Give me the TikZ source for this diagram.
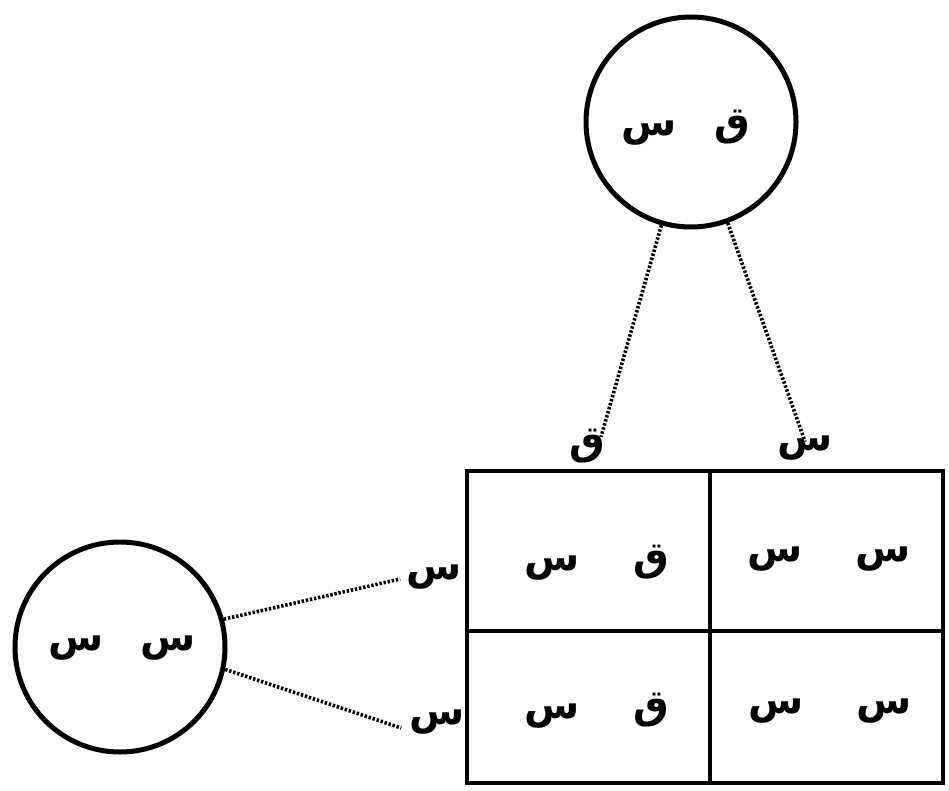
\documentclass[tikz,border=0pt]{standalone}
\usepackage{fontspec}
\newfontfamily\arabicfont[Script=Arabic]{DejaVu Sans}
\TeXXeTstate=1
\newcommand{\ar}[1]{\beginR #1\endR}
\begin{document}
\begin{tikzpicture}[x=1pt,y=-1pt,
  letters/.style={font=\arabicfont\bfseries\fontsize{40}{46}\selectfont, inner sep=0pt, anchor=center},
  gamete/.style={circle, draw, line width=5pt, minimum size=210pt, inner sep=0pt},
  cell/.style={draw, line width=4.5pt, inner sep=0pt},
  dotline/.style={line width=3.6pt, dash pattern=on 2.4pt off 1.8pt}]
\useasboundingbox (0,0) rectangle (949,790);

% parent circles
\node[gamete] (top) at (691,122) {};
\node[letters] (topg) at (686,128) {\ar{ق\hspace{38pt}س}};
\node[gamete] (left) at (120,647) {};
\node[letters] (leftg) at (122,648) {\ar{س\hspace{36pt}س}};

% Punnett square cells
\node[cell, minimum width=243pt, minimum height=160pt] (c11) at (588.5,551) {};
\node[cell, minimum width=233pt, minimum height=160pt] (c12) at (826.5,551) {};
\node[cell, minimum width=243pt, minimum height=152pt] (c21) at (588.5,707) {};
\node[cell, minimum width=233pt, minimum height=152pt] (c22) at (826.5,707) {};

\node[letters] at (597,563) {\ar{ق\hspace{54pt}س}};
\node[letters] at (829,559) {\ar{س\hspace{52pt}س}};
\node[letters] at (597,711) {\ar{ق\hspace{54pt}س}};
\node[letters] at (830,711) {\ar{س\hspace{52pt}س}};

% gamete labels
\node[letters] (gq) at (587,446) {\ar{ق}};
\node[letters] (gs) at (805,448) {\ar{س}};
\node[letters] (gs1) at (434,577) {\ar{س}};
\node[letters] (gs2) at (437,722) {\ar{س}};

% dotted connectors
\draw[dotline] (top.-106) -- ([xshift=14pt,yshift=-8pt]gq.north);
\draw[dotline] (top.-70) -- ([xshift=0pt,yshift=-6pt]gs.north);
\draw[dotline] (left.15) -- ([xshift=-6pt,yshift=-2pt]gs1.west);
\draw[dotline] (left.-12) -- ([xshift=-8pt,yshift=-6pt]gs2.west);
\end{tikzpicture}
\end{document}
